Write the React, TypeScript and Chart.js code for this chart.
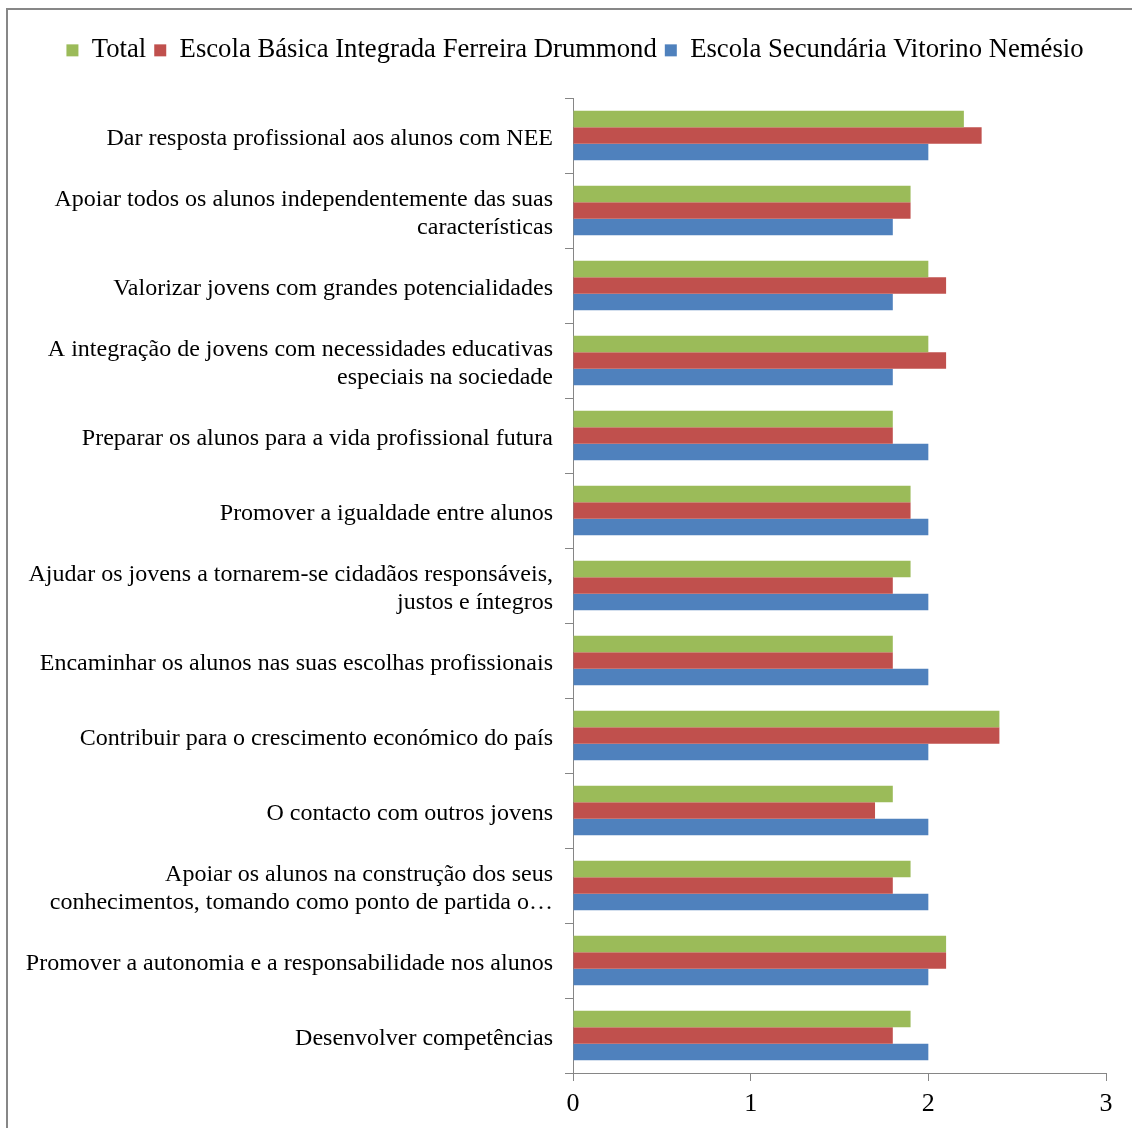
import React, { useEffect, useRef } from "react";
import { Chart, registerables } from "chart.js";

Chart.register(...registerables);

const categories: (string | string[])[] = [
  "Dar resposta profissional aos alunos com NEE",
  ["Apoiar todos os alunos independentemente das suas", "características"],
  "Valorizar jovens com grandes potencialidades",
  ["A integração de jovens com necessidades educativas", "especiais na sociedade"],
  "Preparar os alunos para a vida profissional futura",
  "Promover a igualdade entre alunos",
  ["Ajudar os jovens a tornarem-se cidadãos responsáveis,", "justos e íntegros"],
  "Encaminhar os alunos nas suas escolhas profissionais",
  "Contribuir para o crescimento económico do país",
  "O contacto com outros jovens",
  ["Apoiar os alunos na construção dos seus", "conhecimentos, tomando como ponto de partida o…"],
  "Promover a autonomia e a responsabilidade nos alunos",
  "Desenvolver competências",
];

const seriesNames = [
  "Total",
  "Escola Básica Integrada Ferreira Drummond",
  "Escola Secundária Vitorino Nemésio",
];

const totalValues = [2.2, 1.9, 2.0, 2.0, 1.8, 1.9, 1.9, 1.8, 2.4, 1.8, 1.9, 2.1, 1.9];
const basicaValues = [2.3, 1.9, 2.1, 2.1, 1.8, 1.9, 1.8, 1.8, 2.4, 1.7, 1.8, 2.1, 1.8];
const secundariaValues = [2.0, 1.8, 1.8, 1.8, 2.0, 2.0, 2.0, 2.0, 2.0, 2.0, 2.0, 2.0, 2.0];

const xTicks = [0, 1, 2, 3];

const seriesColors = ["#9BBB59", "#C0504D", "#4F81BD"];

const FONT = "'Liberation Serif', 'Times New Roman', serif";
const AXIS_COLOR = "#868686";

export default function App() {
  const ref = useRef<HTMLCanvasElement | null>(null);

  useEffect(() => {
    if (!ref.current) return;
    const legendPlacementPlugin = {
      id: "legendPlacement",
      afterInit(chart: any) {
        const lg = chart.legend;
        if (!lg) return;
        const orig = lg.fit.bind(lg);
        lg.fit = function () {
          orig();
          this.height = 69;
        };
      },
      beforeDraw(chart: any) {
        const lg = chart.legend;
        if (!lg) return;
        lg.left = 44;
        lg.right = 1106;
      },
    };
    const chart = new Chart(ref.current, {
      type: "bar",
      data: {
        labels: categories,
        datasets: [totalValues, basicaValues, secundariaValues].map((d, i) => ({
          label: seriesNames[i],
          data: d,
          backgroundColor: seriesColors[i],
          borderWidth: 0,
          barPercentage: 1,
          categoryPercentage: 0.66,
        })),
      },
      options: {
        indexAxis: "y",
        responsive: false,
        animation: false,
        layout: { padding: { top: 29, right: 26, left: 0, bottom: 0 } },
        plugins: {
          legend: {
            position: "top",
            align: "center",
            labels: {
              font: { family: FONT, size: 26.7 },
              color: "#000",
              boxWidth: 12,
              boxHeight: 12,
              padding: 8,
            },
          },
          tooltip: { enabled: false },
        },
        scales: {
          x: {
            type: "linear",
            min: xTicks[0],
            max: xTicks[xTicks.length - 1],
            afterBuildTicks(scale: any) {
              scale.ticks = xTicks.map((v) => ({ value: v }));
            },
            afterFit(scale: any) {
              scale.height = 55;
            },
            grid: {
              drawOnChartArea: false,
              drawTicks: true,
              tickLength: 8,
              color: AXIS_COLOR,
            },
            border: { color: AXIS_COLOR, width: 1 },
            ticks: {
              font: { family: FONT, size: 26 },
              color: "#000",
              padding: 8,
            },
          },
          y: {
            type: "category",
            afterFit(scale: any) {
              scale.width = 573;
            },
            grid: {
              offset: true,
              drawOnChartArea: false,
              drawTicks: true,
              tickLength: 8,
              color: AXIS_COLOR,
            },
            border: { color: AXIS_COLOR, width: 1 },
            ticks: {
              font: { family: FONT, size: 24, lineHeight: 1.17 },
              color: "#000",
              padding: 12,
              labelOffset: 3,
              autoSkip: false,
            },
          },
        },
      },
      plugins: [legendPlacementPlugin],
    } as any);
    return () => chart.destroy();
  }, []);

  return (
    <>
      <div
        style={{
          position: "fixed",
          left: 6,
          top: 8,
          width: 1200,
          height: 1200,
          border: "2px solid #878787",
          boxSizing: "border-box",
        }}
      />
      <div style={{ position: "fixed", left: 0, top: 0, width: 1132, height: 1128 }}>
        <canvas ref={ref} width={1132} height={1128} style={{ width: 1132, height: 1128 }} />
      </div>
    </>
  );
}
